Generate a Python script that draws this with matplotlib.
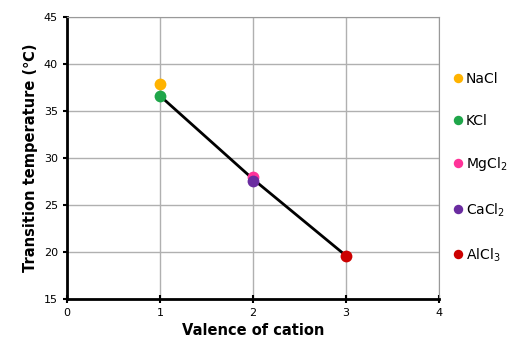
import numpy as np
import matplotlib.pyplot as plt

# data
salts = ['NaCl', 'KCl', 'MgCl$_2$', 'CaCl$_2$', 'AlCl$_3$']
valence = [1, 1, 2, 2, 3]
temps = [37.9, 36.6, 28.0, 27.5, 19.6]
colors = ['#FFB300', '#1FA64A', '#FF3399', '#6A2CA0', '#CC0000']

line_x = [1, 2, 3]
line_y = [36.6, 27.75, 19.6]

fig = plt.figure(figsize=(5.12, 3.52), dpi=100)
ax = fig.add_axes([0.131, 0.151, 0.726, 0.801])

ax.plot(line_x, line_y, color='black', lw=2, zorder=3)
for s, x, y, c in zip(salts, valence, temps, colors):
    ax.plot(x, y, 'o', color=c, ms=8.5, label=s, zorder=4, markeredgewidth=0)

ax.set_xlim(0, 4)
ax.set_ylim(15, 45)
ax.set_xticks([0, 1, 2, 3, 4])
ax.set_yticks([15, 20, 25, 30, 35, 40, 45])
ax.grid(True, color='#b0b0b0', lw=1)
ax.set_axisbelow(True)

for side in ['top', 'right']:
    ax.spines[side].set_color('#999999')
for side in ['left', 'bottom']:
    ax.spines[side].set_linewidth(2)
ax.tick_params(axis='y', direction='out', length=3, width=1.5, labelsize=8)
ax.tick_params(axis='x', direction='inout', length=6, width=1.5, labelsize=8)

ax.set_xlabel('Valence of cation', fontsize=10.5, fontweight='bold')
ax.set_ylabel('Transition temperature (\u2103)', fontsize=10.5, fontweight='bold')

ax.legend(loc='center left', bbox_to_anchor=(1.0, 0.465), frameon=False,
          fontsize=10, handletextpad=0.05, labelspacing=2.0, markerscale=0.8,
          handlelength=1.0)

plt.savefig('out.png', dpi=100)
